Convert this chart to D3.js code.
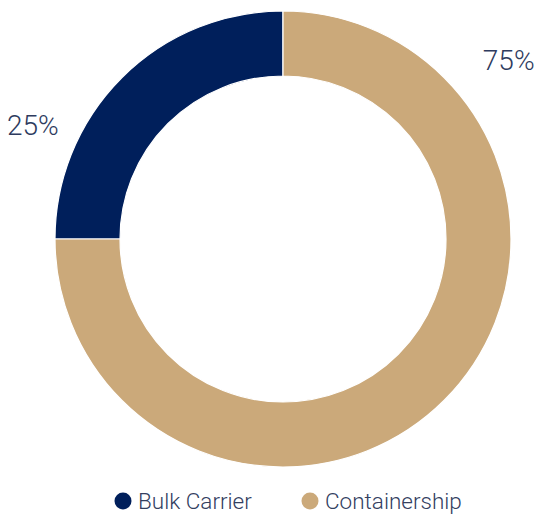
<!DOCTYPE html>
<html>
<head>
<meta charset="utf-8">
<script src="https://cdn.jsdelivr.net/npm/d3@7"></script>
<style>
  html, body { margin: 0; padding: 0; background: #fff; overflow: hidden; }
  svg { display: block; }
</style>
</head>
<body>
<svg id="chart" width="536" height="515"></svg>
<script>
// Fleet composition by vessel type
const categories = ["Bulk Carrier", "Containership"];
const shares = [25, 75];
const colors = ["#001f5b", "#cba97a"];

const width = 536, height = 515;
const cx = 283, cy = 239;
const outerR = 228, innerR = 163;

const svg = d3.select("#chart");
const g = svg.append("g").attr("transform", `translate(${cx},${cy})`);

const data = categories.map((c, i) => ({ name: c, value: shares[i], color: colors[i] }));

const pie = d3.pie()
  .sort(null)
  .value(d => d.value)
  .startAngle(-Math.PI / 2)
  .endAngle(Math.PI * 1.5);

const arc = d3.arc().innerRadius(innerR).outerRadius(outerR);

const arcs = pie(data);

g.selectAll("path.slice")
  .data(arcs)
  .join("path")
  .attr("class", "slice")
  .attr("d", arc)
  .attr("fill", d => d.data.color)
  .attr("stroke", "#ffffff")
  .attr("stroke-width", 1.2);

// Percentage labels, placed outside the ring
const labelPlacement = [
  { angle: -65.5, radius: 275 },
  { angle: 51.6, radius: 288 }
];
const total = d3.sum(shares);
g.selectAll("text.pct")
  .data(arcs)
  .join("text")
  .attr("class", "pct")
  .attr("x", (d, i) => labelPlacement[i].radius * Math.sin(labelPlacement[i].angle * Math.PI / 180))
  .attr("y", (d, i) => -labelPlacement[i].radius * Math.cos(labelPlacement[i].angle * Math.PI / 180))
  .attr("text-anchor", "middle")
  .attr("dy", "0.35em")
  .attr("font-family", "Roboto, 'Noto Sans', sans-serif")
  .attr("font-weight", 300)
  .attr("font-size", 28)
  .attr("fill", "#2e3b5e")
  .text(d => Math.round(d.data.value / total * 100) + "%");

// Legend
const legend = svg.append("g").attr("transform", "translate(0,501)");
const legendX = [123, 310];
const items = legend.selectAll("g.item")
  .data(data)
  .join("g")
  .attr("class", "item")
  .attr("transform", (d, i) => `translate(${legendX[i]},0)`);

items.append("circle")
  .attr("r", 8.5)
  .attr("fill", d => d.color);

items.append("text")
  .attr("x", 15)
  .attr("y", 8)
  .attr("font-family", "Roboto, 'Noto Sans', sans-serif")
  .attr("font-weight", 300)
  .attr("font-size", 22.5)
  .attr("fill", "#33405f")
  .text(d => d.name);
</script>
</body>
</html>
